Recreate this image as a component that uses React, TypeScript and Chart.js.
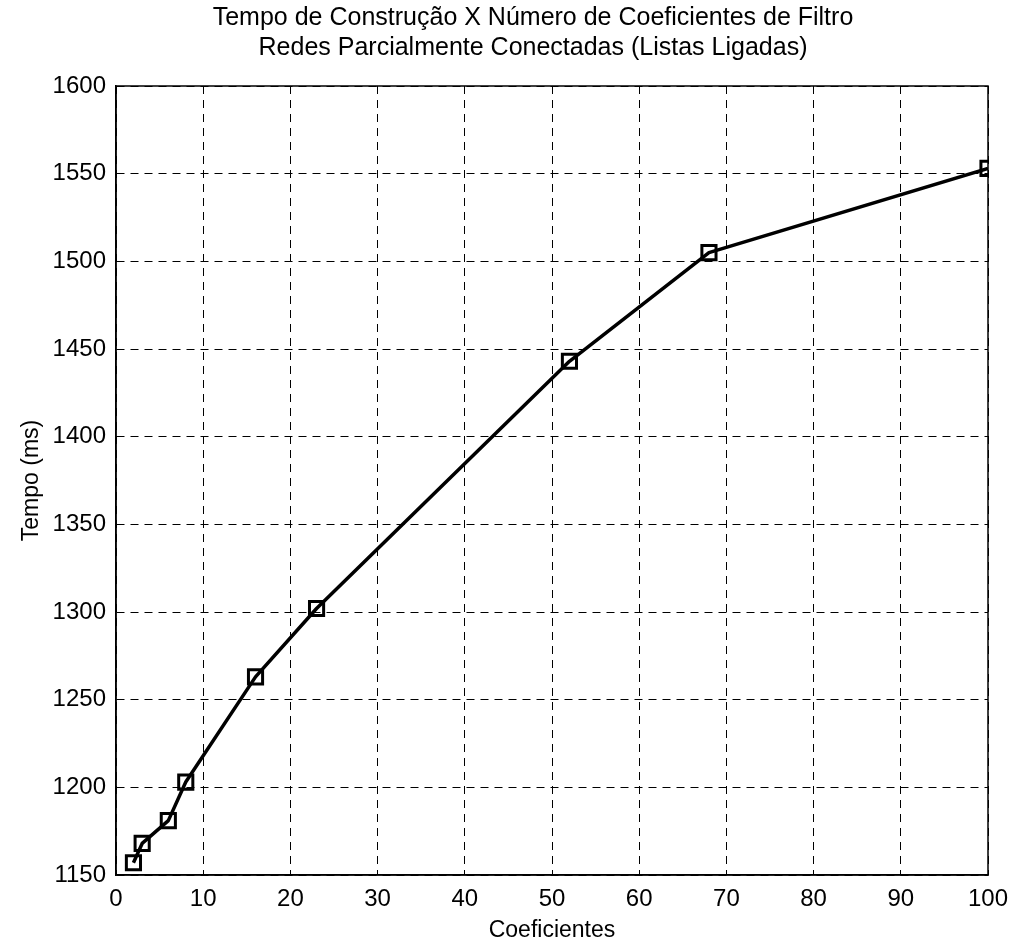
import React, { useEffect, useRef } from "react";
import { Chart, registerables } from "chart.js";

Chart.register(...registerables);

const coeficientes = [2, 3, 6, 8, 16, 23, 52, 68, 100];
const tempoMs = [1157, 1168, 1181, 1203, 1263, 1302, 1443, 1505, 1553];
const titleLines = [
  "Tempo de Construção X Número de Coeficientes de Filtro",
  "Redes Parcialmente Conectadas (Listas Ligadas)",
];
const xLabel = "Coeficientes";
const yLabel = "Tempo (ms)";

const FONT = "'Liberation Sans', Arial, sans-serif";

const boxPlugin = {
  id: "boxPlugin",
  afterDraw(chart: any) {
    const { ctx, chartArea } = chart;
    ctx.save();
    ctx.strokeStyle = "#000";
    ctx.lineWidth = 1.5;
    ctx.setLineDash([]);
    ctx.strokeRect(chartArea.left, chartArea.top, chartArea.right - chartArea.left, chartArea.bottom - chartArea.top);
    ctx.restore();
  },
};

const titlePlugin = {
  id: "titlePlugin",
  afterDraw(chart: any) {
    const { ctx, chartArea } = chart;
    ctx.save();
    ctx.fillStyle = "#000";
    ctx.font = `25px ${FONT}`;
    ctx.textAlign = "center";
    ctx.textBaseline = "middle";
    const cx = (chartArea.left + chartArea.right) / 2 - 19;
    titleLines.forEach((line, i) => ctx.fillText(line, cx, 18 + i * 30));
    ctx.restore();
  },
};

export default function App() {
  const ref = useRef<HTMLCanvasElement | null>(null);
  useEffect(() => {
    document.body.style.margin = "0";
    document.body.style.background = "#fff";
    const canvas = ref.current!;
    const chart = new Chart(canvas, {
      type: "line",
      data: {
        datasets: [
          {
            data: coeficientes.map((x, i) => ({ x, y: tempoMs[i] })),
            borderColor: "#000",
            borderWidth: 3.5,
            pointStyle: "rect",
            pointRadius: 10,
            pointBorderWidth: 3,
            pointBorderColor: "#000",
            pointBackgroundColor: "rgba(0,0,0,0)",
            tension: 0,
          },
        ],
      },
      options: {
        animation: false,
        responsive: false,
        maintainAspectRatio: false,
        layout: { padding: { left: 0, right: 26, top: 86, bottom: 0 } },
        plugins: {
          legend: { display: false },
          tooltip: { enabled: false },
          title: { display: false },
        },
        scales: {
          x: {
            type: "linear",
            min: 0,
            max: 100,
            ticks: {
              stepSize: 10,
              color: "#000",
              font: { family: FONT, size: 24 },
              padding: 10,
              callback: (v: any) => String(v),
            },
            grid: { color: "#000", lineWidth: 1, tickLength: 0, drawTicks: false },
            border: { display: true, color: "#000", width: 1.5, dash: [8, 6] },
            title: { display: true, text: xLabel, color: "#000", font: { family: FONT, size: 23 }, padding: { top: 2, bottom: 2 } },
            afterFit(scale: any) {
              scale.height = 71;
              scale.paddingRight = 0;
              scale.paddingLeft = 0;
            },
          } as any,
          y: {
            type: "linear",
            min: 1150,
            max: 1600,
            ticks: {
              stepSize: 50,
              color: "#000",
              font: { family: FONT, size: 24 },
              padding: 10,
              callback: (v: any) => String(v),
            },
            grid: { color: "#000", lineWidth: 1, tickLength: 0, drawTicks: false },
            border: { display: true, color: "#000", width: 1.5, dash: [8, 6] },
            title: { display: true, text: yLabel, color: "#000", font: { family: FONT, size: 23 }, padding: { top: 18, bottom: 6 } },
            afterFit(scale: any) {
              scale.width = 116;
              scale.paddingTop = 0;
              scale.paddingBottom = 0;
            },
          } as any,
        },
        elements: { line: { borderJoinStyle: "round" } },
      },
      plugins: [boxPlugin, titlePlugin],
    } as any);
    return () => chart.destroy();
  }, []);
  return <canvas ref={ref} width={1014} height={946} style={{ display: "block" }} />;
}
